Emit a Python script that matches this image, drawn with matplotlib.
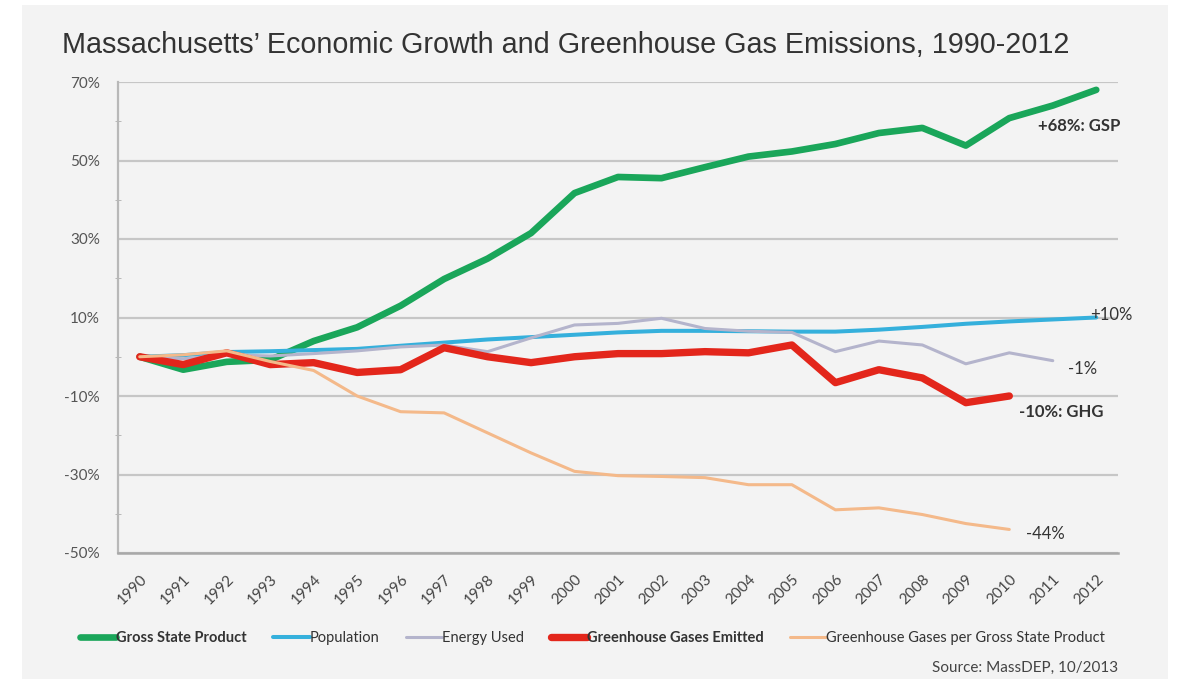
import numpy as np
import matplotlib
matplotlib.use("Agg")
import matplotlib.pyplot as plt
from matplotlib.patches import Rectangle
from matplotlib.ticker import FixedLocator, FuncFormatter

# Percent change since 1990
years = list(range(1990, 2013))

gsp = [0, -3.3, -1.3, -0.8, 4.0, 7.5, 13.0, 19.8, 25.0, 31.5, 41.7, 45.8,
       45.5, 48.3, 51.0, 52.3, 54.2, 57.0, 58.3, 53.8, 60.8, 64.0, 68.0]
population = [0, 0.4, 1.2, 1.4, 1.7, 2.0, 2.8, 3.6, 4.4, 5.0, 5.6, 6.2,
              6.6, 6.6, 6.5, 6.4, 6.4, 6.9, 7.6, 8.4, 9.0, 9.5, 10.0]
energy = [0, -0.5, 0.5, 0.2, 0.8, 1.5, 2.5, 3.0, 1.3, 4.8, 8.1, 8.5,
          9.8, 7.2, 6.5, 6.2, 1.3, 4.0, 3.0, -1.8, 1.0, -1.0]
ghg = [0, -2.0, 1.0, -2.0, -1.5, -4.0, -3.3, 2.3, 0, -1.5, 0, 0.8,
       0.8, 1.3, 1.0, 3.0, -6.6, -3.3, -5.4, -11.7, -10.0]
ghg_per_gsp = [0, 0.5, 1.5, -1.2, -3.5, -10.0, -14.0, -14.3, -19.4, -24.5, -29.2,
               -30.3, -30.5, -30.8, -32.6, -32.6, -39.0, -38.5, -40.2, -42.5, -44.0]

# name, values, colour, width, end label, label offset (px), bold
series = [
    ("Gross State Product", gsp, "#1aa65a", 4.8, "+68%: GSP", (-58, -36), True),
    ("Population", population, "#35b0dc", 2.9, "+10%", (-6, 3), False),
    ("Energy Used", energy, "#b4b4cc", 2.2, "-1%", (15, -8), False),
    ("Greenhouse Gases Emitted", ghg, "#e3261b", 5.3, "-10%: GHG", (10, -16), True),
    ("Greenhouse Gases per Gross State Product", ghg_per_gsp, "#f4b98a", 2.2, "-44%", (17, -5), False),
]

bg = "#f3f3f3"
fig = plt.figure(figsize=(11.79, 6.79), dpi=100, facecolor="white")
fig.patches.append(Rectangle((22 / 1179, 0), (1168 - 22) / 1179, 1 - 5 / 679,
                             transform=fig.transFigure, facecolor=bg,
                             edgecolor="none", zorder=-5))

ax = fig.add_axes([118 / 1179, 1 - 553 / 679, (1118 - 118) / 1179, (553 - 82) / 679])
ax.set_zorder(2)
ax.set_facecolor(bg)

for name, vals, color, lw, label, offset, bold in series:
    x = years[:len(vals)]
    ax.plot(x, vals, color=color, lw=lw, label=name,
            solid_joinstyle="round", solid_capstyle="round")
    ax.annotate(label, xy=(x[-1], vals[-1]), xytext=offset, textcoords="offset pixels",
                ha="left", va="center", fontsize=12, family="Lato",
                fontweight="bold" if bold else "normal", color="#333333",
                annotation_clip=False)

ax.set_xlim(1989.5, 2012.5)
ax.set_ylim(-50, 70)

major = [70, 50, 30, 10, -10, -30, -50]
ax.yaxis.set_major_locator(FixedLocator(major))
ax.yaxis.set_minor_locator(FixedLocator([60, 40, 20, 0, -20, -40]))
ax.yaxis.set_major_formatter(FuncFormatter(lambda v, p: f"{v:.0f}%"))
ax.grid(axis="y", which="major", color="#c6c6c6", lw=1.6)
ax.set_axisbelow(True)

ax.set_xticks(years)
ax.set_xticklabels([str(y) for y in years], rotation=45, ha="right",
                   rotation_mode="anchor", family="Lato", fontsize=11, color="#444444")
ax.tick_params(axis="x", length=0, pad=14)
ax.tick_params(axis="y", which="major", length=0, pad=13, labelsize=11, labelcolor="#555555")
ax.tick_params(axis="y", which="minor", length=4, direction="inout", color="#b0b0b0")
for lbl in ax.get_yticklabels():
    lbl.set_family("Lato")

for side in ["top", "right"]:
    ax.spines[side].set_visible(False)
ax.spines["left"].set_color("#b8b8b8")
ax.spines["left"].set_linewidth(1.6)
ax.spines["bottom"].set_color("#a8a8a8")
ax.spines["bottom"].set_linewidth(1.8)

fig.text(62 / 1179, 1 - 45 / 679, "Massachusetts\u2019 Economic Growth and Greenhouse Gas Emissions, 1990-2012",
         family="Liberation Sans", fontsize=20.7, color="#333333", ha="left", va="center")

leg = ax.legend(loc="center left", bbox_to_anchor=(80 / 1179, 1 - 638 / 679),
                bbox_transform=fig.transFigure, ncol=5, frameon=False,
                borderpad=0, borderaxespad=0,
                handlelength=2.5, handletextpad=0.0, columnspacing=1.8,
                prop={"family": "Lato", "size": 10.5})
for txt, (_, _, _, _, _, _, bold) in zip(leg.get_texts(), series):
    txt.set_color("#333333")
    if bold:
        txt.set_fontweight("bold")

fig.text(1118 / 1179, 1 - 668 / 679, "Source: MassDEP, 10/2013", family="Lato",
         fontsize=11, color="#444444", ha="right", va="center")

fig.savefig("out.png", dpi=100, facecolor="white")
